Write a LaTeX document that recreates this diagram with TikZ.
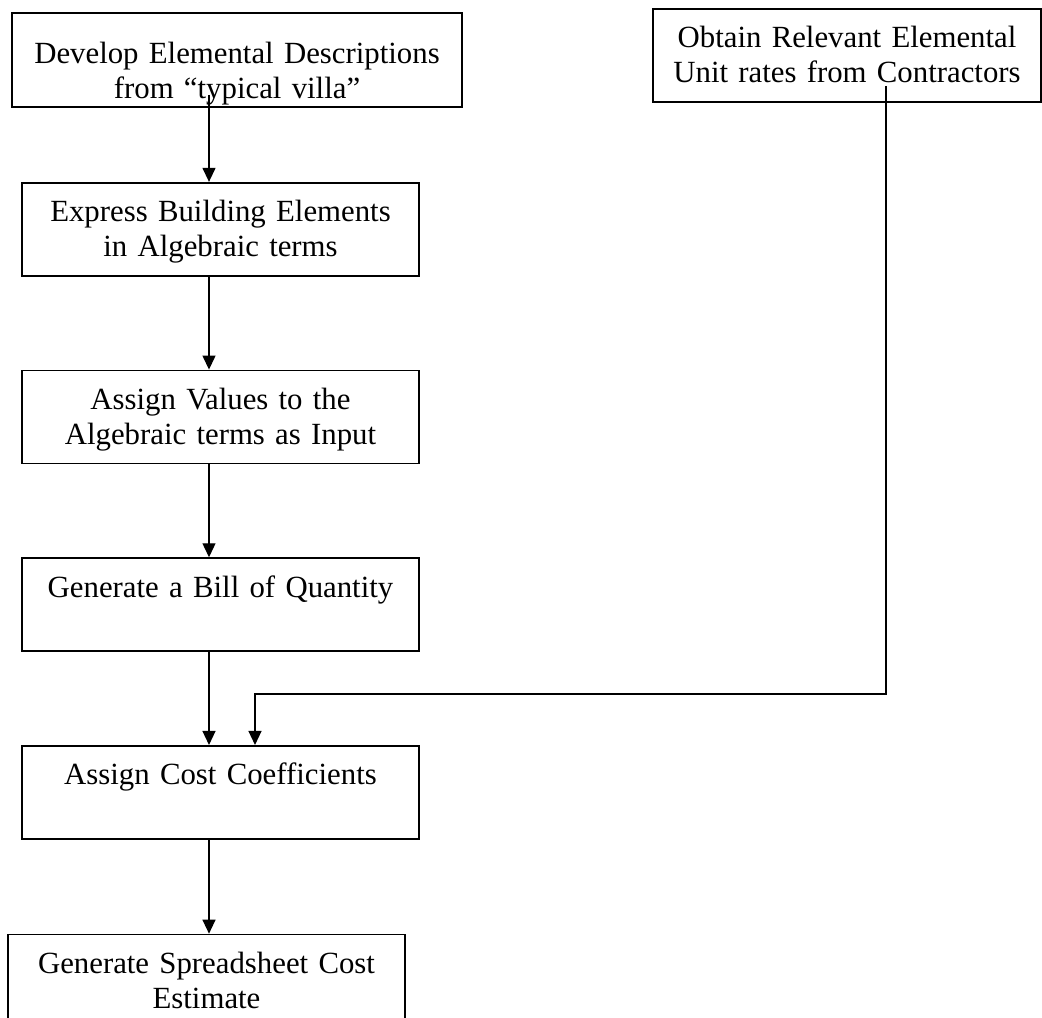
\documentclass[tikz,border=0pt]{standalone}
\usepackage{fontspec}
\setmainfont{Liberation Serif}
\usetikzlibrary{arrows.meta,positioning}
\tikzset{
    mybox/.style={rectangle,draw=black,line width=0.85pt,inner sep=0pt,
        text width=#1,minimum width=#1,align=center,minimum height=46.5pt,
        text height=19.5pt,text depth=27pt},
    pil/.style={-{Triangle[width=6.5pt,length=7pt]},line width=0.65pt}
}

\begin{document}
\begin{tikzpicture}[x=0.5pt,y=-0.5pt,font=\fontsize{15.4pt}{17.5pt}\selectfont]
    \useasboundingbox (0,0) rectangle (1042,1017);
    \node[mybox=225pt, text height=25pt, text depth=22pt, minimum height=47pt] (develop) at (237,60)
      {Develop Elemental Descriptions\\
      from “typical villa”};
    \node[mybox=198.5pt, below=37pt of develop, xshift=-8.25pt] (express)
      {Express Building Elements\\
      in Algebraic terms};
    \node[mybox=198.5pt, below=46.5pt of express] (values)
      {Assign Values to the\\
      Algebraic terms as Input};
    \node[mybox=198.5pt, below=46.5pt of values] (bill)
      {Generate a Bill of Quantity};
    \node[mybox=198.5pt, below=46.5pt of bill] (coef)
      {Assign Cost Coefficients};
    \node[mybox=198.5pt, below=47pt of coef, xshift=-7pt, minimum height=60pt, text depth=40.5pt] (sheet)
      {Generate Spreadsheet Cost\\
      Estimate};
    \node[mybox=194pt, text height=19pt, text depth=27.5pt] (obtain) at (847,55.5)
      {Obtain Relevant Elemental\\
      Unit rates from Contractors};

    % arrow columns
    \coordinate (col) at (209,0);
    \coordinate (rcol) at (886,0);
    \coordinate (merge) at (255,694);

    \draw[pil] (develop.south -| col) ++(0,-13) -- (express.north -| col);
    \draw[pil] (express.south -| col) -- (values.north -| col);
    \draw[pil] (values.south -| col) -- (bill.north -| col);
    \draw[pil] (bill.south -| col) -- (coef.north -| col);
    \draw[pil] (coef.south -| col) -- (sheet.north -| col);
    \draw[pil] (obtain.south -| rcol) ++(0,-17) |- (merge) -- (coef.north -| merge);
\end{tikzpicture}
\end{document}
